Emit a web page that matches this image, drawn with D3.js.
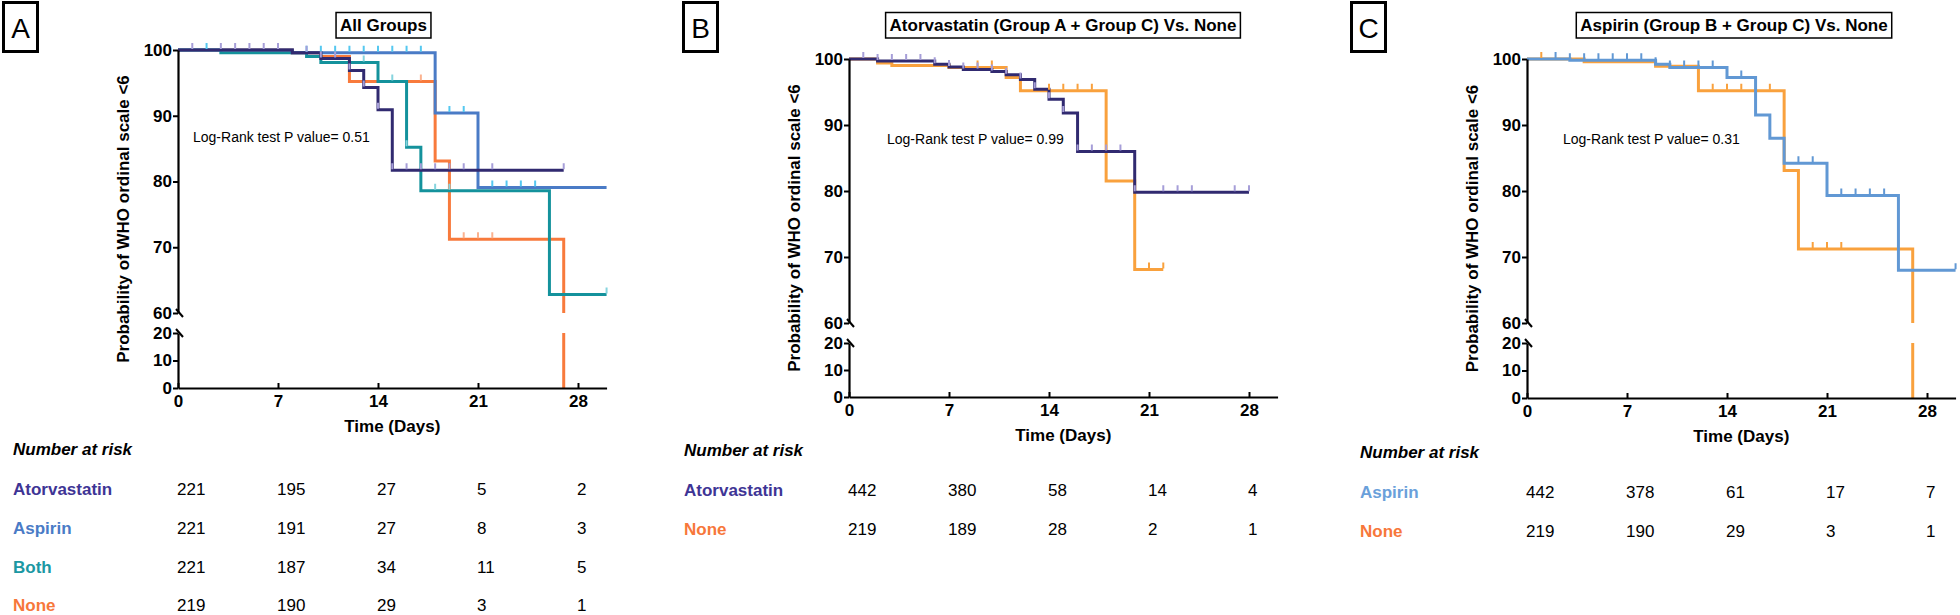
<!DOCTYPE html>
<html>
<head>
<meta charset="utf-8">
<script src="https://cdn.jsdelivr.net/npm/d3@7"></script>
<style>
  body { margin: 0; background: #fff; }
  svg { display: block; font-family: "Liberation Sans", Arial, sans-serif; }
</style>
</head>
<body>
<svg id="chart" width="1960" height="615"></svg>
<script>
// ---- data ---------------------------------------------------------------
const dayTicks = [0, 7, 14, 21, 28];
const upperTicks = [60, 70, 80, 90, 100];
const lowerTicks = [0, 10, 20];

// Panel A : all groups, [day, % with WHO ordinal < 6]
const atorvastatinA = [[0,100],[8,99.6],[10,98.7],[12,96.9],[13,94.3],[14,90.9],[15,81.7],[27,81.7]];
const aspirinA      = [[0,100],[8,99.6],[18,90.4],[21,79.1],[30,79.1]];
const bothA         = [[0,100],[3,99.6],[9,99.0],[10,98.1],[14,95.2],[16,85.2],[17,78.6],[26,62.8],[30,62.8]];
const noneA         = [[0,100],[8,99.6],[10,99.0],[12,95.2],[18,83.1],[19,71.2],[27,0]];
const atorvastatinACens = [1,3,4,5,6,7,9,10,11,12,13,14,15,16,17,18,19,20,22,27];
const aspirinACens      = [2,9,10,11,12,13,14,15,16,17,19,20,22,23,24,25];
const bothACens         = [13,15,16,18,19,30];
const noneACens         = [17,20,21,22];

// Panel B : atorvastatin vs none
const atorvastatinB = [[0,100],[2,99.7],[6,99.2],[7,98.8],[8,98.4],[10,98.1],[11,97.6],[12,96.9],[13,95.4],[14,93.9],[15,91.8],[16,86.0],[20,79.8],[28,79.8]];
const noneB         = [[0,100],[2,99.4],[3,99.0],[7,98.7],[11,97.2],[12,95.2],[18,81.5],[20,68.1],[22,68.1]];
const atorvastatinBCens = [1,2,3,4,5,6,7,8,9,10,11,12,13,14,15,16,17,18,19,20,22,23,24,27,28];
const noneBCens         = [9,10,14,15,16,17,21,22];

// Panel C : aspirin vs none
const aspirinC = [[0,100],[3,99.8],[9,99.2],[10,98.7],[14,97.2],[16,91.5],[17,88.0],[18,84.2],[21,79.3],[26,68.0],[30,68.0]];
const noneC    = [[0,100],[4,99.6],[9,98.9],[12,95.2],[18,83.1],[19,71.2],[27,0]];
const aspirinCCens = [2,3,4,5,6,7,8,9,10,11,12,13,15,19,20,22,23,24,25,30];
const noneCCens    = [1,13,14,15,17,20,21,22];

// numbers at risk
const riskAtorvastatinA = [221, 195, 27, 5, 2];
const riskAspirinA      = [221, 191, 27, 8, 3];
const riskBothA         = [221, 187, 34, 11, 5];
const riskNoneA         = [219, 190, 29, 3, 1];
const riskAtorvastatinB = [442, 380, 58, 14, 4];
const riskNoneB         = [219, 189, 28, 2, 1];
const riskAspirinC      = [442, 378, 61, 17, 7];
const riskNoneC         = [219, 190, 29, 3, 1];

// ---- colours ------------------------------------------------------------
const purple = "#312a70", lavender = "#a69ed8";
const blueA = "#4a7bc6", cyan = "#55c8f0";
const teal = "#14929c", tealTick = "#86d4de";
const orangeA = "#f87a3c", orangeATick = "#fbb28f";
const orangeBC = "#f9a13d";
const blueC = "#6198d4";

const panels = [
  {
    letter: "A", letterX: 2, title: "All Groups", titleCx: 383.5,
    ax: 178, y100: 50, y60: 313, y20: 333, y0: 388,
    pText: "Log-Rank test P value= 0.51", pDx: 15, pY: 141.5,
    series: [
      {d: noneA, c: noneACens, color: orangeA, tick: orangeATick},
      {d: bothA, c: bothACens, color: teal, tick: tealTick},
      {d: aspirinA, c: aspirinACens, color: blueA, tick: cyan},
      {d: atorvastatinA, c: atorvastatinACens, color: purple, tick: lavender}
    ],
    tableX: 13, headY: 455, rowY: [494.5, 533.5, 572.5, 610.5],
    rows: [
      {name: "Atorvastatin", color: "#3e3495", n: riskAtorvastatinA},
      {name: "Aspirin", color: "#4a7bc6", n: riskAspirinA},
      {name: "Both", color: "#1b98a3", n: riskBothA},
      {name: "None", color: "#f7773a", n: riskNoneA}
    ]
  },
  {
    letter: "B", letterX: 682, title: "Atorvastatin (Group A + Group C) Vs. None", titleCx: 1063,
    ax: 849, y100: 59, y60: 323, y20: 343, y0: 397,
    pText: "Log-Rank test P value= 0.99", pDx: 38, pY: 144,
    series: [
      {d: noneB, c: noneBCens, color: orangeBC, tick: orangeBC},
      {d: atorvastatinB, c: atorvastatinBCens, color: purple, tick: lavender}
    ],
    tableX: 684, headY: 456, rowY: [495.5, 534.5],
    rows: [
      {name: "Atorvastatin", color: "#3e3495", n: riskAtorvastatinB},
      {name: "None", color: "#f7773a", n: riskNoneB}
    ]
  },
  {
    letter: "C", letterX: 1350, title: "Aspirin (Group B + Group C) Vs. None", titleCx: 1734,
    ax: 1527, y100: 59, y60: 323, y20: 343, y0: 398,
    pText: "Log-Rank test P value= 0.31", pDx: 36, pY: 144,
    series: [
      {d: noneC, c: noneCCens, color: orangeBC, tick: orangeBC},
      {d: aspirinC, c: aspirinCCens, color: blueC, tick: blueC}
    ],
    tableX: 1360, headY: 458, rowY: [497.5, 536.5],
    rows: [
      {name: "Aspirin", color: "#6aa0da", n: riskAspirinC},
      {name: "None", color: "#f7773a", n: riskNoneC}
    ]
  }
];

const svg = d3.select("#chart");

function valueAt(steps, t) {
  let v = steps[0][1];
  for (const [d, p] of steps) if (d <= t) v = p;
  return v;
}

panels.forEach((p, i) => {
  const g = svg.append("g");

  const x = d3.scaleLinear().domain([0, 30]).range([p.ax, p.ax + 30 * 100 / 7]);
  // broken axis: 0-20 below, 60-100 above
  const y = d3.scaleLinear().domain([0, 20, 60, 100]).range([p.y0, p.y20, p.y60, p.y100]);
  const yUp = d3.scaleLinear().domain([60, 100]).range([p.y60, p.y100]);
  const yLo = d3.scaleLinear().domain([0, 20]).range([p.y0, p.y20]);

  // clip the curves so nothing shows in the axis gap
  const clipId = "clip" + i;
  const cp = svg.append("clipPath").attr("id", clipId);
  cp.append("rect").attr("x", p.ax - 3).attr("y", p.y100 - 14)
    .attr("width", 450).attr("height", p.y60 - p.y100 + 14);
  cp.append("rect").attr("x", p.ax - 3).attr("y", p.y20)
    .attr("width", 450).attr("height", p.y0 - p.y20 + 3);

  const curves = g.append("g").attr("clip-path", `url(#${clipId})`);

  const line = d3.line()
    .x(d => x(d[0]))
    .y(d => y(d[1]))
    .curve(d3.curveStepAfter);

  p.series.forEach(s => {
    curves.append("path")
      .attr("d", line(s.d))
      .attr("fill", "none")
      .attr("stroke", s.color)
      .attr("stroke-width", 3);
  });

  // censor marks
  p.series.forEach(s => {
    s.c.forEach(t => {
      const v = valueAt(s.d, t);
      curves.append("line")
        .attr("x1", x(t)).attr("x2", x(t))
        .attr("y1", y(v) - 1).attr("y2", y(v) - 7)
        .attr("stroke", s.tick)
        .attr("stroke-width", 2);
    });
  });

  // axes
  const styleAxis = sel => {
    sel.select(".domain").attr("stroke", "#000").attr("stroke-width", 2.2);
    sel.selectAll(".tick line").attr("stroke", "#000").attr("stroke-width", 2);
    sel.selectAll("text")
      .attr("font-family", "Liberation Sans, Arial, sans-serif")
      .attr("font-size", 17).attr("font-weight", "bold").attr("fill", "#000");
  };

  g.append("g")
    .attr("transform", `translate(${p.ax},0)`)
    .call(d3.axisLeft(yUp).tickValues(upperTicks).tickSize(5).tickSizeOuter(0).tickPadding(1))
    .call(styleAxis);

  g.append("g")
    .attr("transform", `translate(${p.ax},0)`)
    .call(d3.axisLeft(yLo).tickValues(lowerTicks).tickSize(5).tickSizeOuter(0).tickPadding(1))
    .call(styleAxis);

  g.append("g")
    .attr("transform", `translate(0,${p.y0})`)
    .call(d3.axisBottom(x).tickValues(dayTicks).tickSize(-5).tickSizeOuter(0).tickPadding(7))
    .call(styleAxis);

  // break marks
  [p.y60, p.y20].forEach(yy => {
    g.append("line")
      .attr("x1", p.ax - 2).attr("y1", yy - 4)
      .attr("x2", p.ax + 5).attr("y2", yy + 4)
      .attr("stroke", "#000").attr("stroke-width", 2);
  });

  // axis titles
  g.append("text")
    .attr("transform", `translate(${p.ax - 49},${(p.y100 + p.y0) / 2}) rotate(-90)`)
    .attr("text-anchor", "middle")
    .attr("font-size", 17).attr("font-weight", "bold")
    .text("Probability of WHO ordinal scale <6");

  g.append("text")
    .attr("x", x(15)).attr("y", p.y0 + 44)
    .attr("text-anchor", "middle")
    .attr("font-size", 17).attr("font-weight", "bold")
    .text("Time (Days)");

  g.append("text")
    .attr("x", p.ax + p.pDx).attr("y", p.pY)
    .attr("font-size", 14)
    .text(p.pText);

  // title in a box
  const box = g.append("rect");
  const tt = g.append("text")
    .attr("x", p.titleCx).attr("y", 31)
    .attr("text-anchor", "middle")
    .attr("font-size", 17).attr("font-weight", "bold")
    .text(p.title);
  const tw = tt.node().getComputedTextLength();
  box.attr("x", p.titleCx - tw / 2 - 4).attr("y", 12.5)
    .attr("width", tw + 8).attr("height", 25.5)
    .attr("fill", "#fff").attr("stroke", "#000").attr("stroke-width", 1.5);

  // panel letter
  g.append("rect")
    .attr("x", p.letterX + 1.5).attr("y", 2.5)
    .attr("width", 34).attr("height", 49)
    .attr("fill", "none").attr("stroke", "#000").attr("stroke-width", 3);
  g.append("text")
    .attr("x", p.letterX + 18.5).attr("y", 38)
    .attr("text-anchor", "middle")
    .attr("font-size", 28)
    .text(p.letter);

  // numbers at risk
  g.append("text")
    .attr("x", p.tableX).attr("y", p.headY)
    .attr("font-size", 17).attr("font-weight", "bold").attr("font-style", "italic")
    .text("Number at risk");

  p.rows.forEach((r, j) => {
    g.append("text")
      .attr("x", p.tableX).attr("y", p.rowY[j])
      .attr("font-size", 17).attr("font-weight", "bold")
      .attr("fill", r.color)
      .text(r.name);
    r.n.forEach((n, k) => {
      g.append("text")
        .attr("x", x(dayTicks[k]) - 1).attr("y", p.rowY[j])
        .attr("font-size", 17)
        .text(n);
    });
  });
});
</script>
</body>
</html>
